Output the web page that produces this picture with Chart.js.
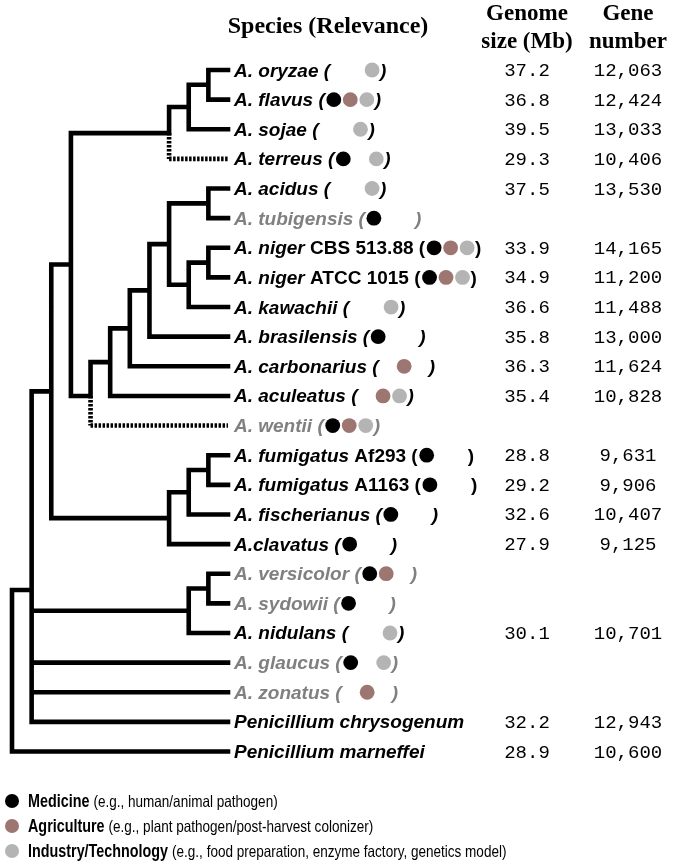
<!DOCTYPE html>
<html>
<head>
<meta charset="utf-8">
<script src="https://cdn.jsdelivr.net/npm/chart.js@4.4.1/dist/chart.umd.min.js"></script>
<style>
  html, body { margin: 0; padding: 0; background: #fff; }
  .tree { position: relative; width: 675px; height: 866px; }
</style>
</head>
<body>
<div class="tree"><canvas id="tree"></canvas></div>
<script>
// leaves, top to bottom
const speciesNames = ["A. oryzae", "A. flavus", "A. sojae", "A. terreus", "A. acidus", "A. tubigensis",
  "A. niger", "A. niger", "A. kawachii", "A. brasilensis", "A. carbonarius", "A. aculeatus", "A. wentii",
  "A. fumigatus", "A. fumigatus", "A. fischerianus", "A.clavatus", "A. versicolor", "A. sydowii",
  "A. nidulans", "A. glaucus", "A. zonatus", "Penicillium chrysogenum", "Penicillium marneffei"];
const strains = ["", "", "", "", "", "", "CBS 513.88", "ATCC 1015", "", "", "", "", "",
  "Af293", "A1163", "", "", "", "", "", "", "", "", ""];
const genomeSize = [37.2, 36.8, 39.5, 29.3, 37.5, null, 33.9, 34.9, 36.6, 35.8, 36.3, 35.4, null,
  28.8, 29.2, 32.6, 27.9, null, null, 30.1, null, null, 32.2, 28.9];
const geneNumber = [12063, 12424, 13033, 10406, 13530, null, 14165, 11200, 11488, 13000, 11624, 10828, null,
  9631, 9906, 10407, 9125, null, null, 10701, null, null, 12943, 10600];
// M = medicine, A = agriculture, I = industry/technology
const relevance = ["I", "MAI", "I", "MI", "I", "M", "MAI", "MAI", "I", "M", "A", "AI", "MAI",
  "M", "M", "M", "M", "MA", "M", "I", "MI", "A", null, null];

const relevanceKeys = ["M", "A", "I"];
const relevanceNames = ["Medicine", "Agriculture", "Industry/Technology"];
const relevanceNotes = ["(e.g., human/animal pathogen)", "(e.g., plant pathogen/post-harvest colonizer)",
  "(e.g., food preparation, enzyme factory, genetics model)"];
const relevanceColors = ["#000000", "#9d7672", "#b4b4b4"];

// cladogram: name -> [level, children]; numbers are leaf rows
const leafLevel = 11;
const clades = {
  root: [0, ["core", 23]],
  core: [1, ["asp", "nidulantes", 20, 21, 22]],
  asp: [2, ["asp3", "fumigati"]],
  asp3: [3, ["flavi", "nigri"]],
  flavi: [8, ["flavi2", 3]],
  flavi2: [9, ["flavi1", 2]],
  flavi1: [10, [0, 1]],
  nigri: [4, ["nigri7", 12]],
  nigri7: [5, ["nigri6", 11]],
  nigri6: [6, ["nigri5", 10]],
  nigri5: [7, ["nigri4", 9]],
  nigri4: [8, ["nigri1", "nigri3"]],
  nigri1: [10, [4, 5]],
  nigri3: [9, ["nigri2", 8]],
  nigri2: [10, [6, 7]],
  fumigati: [8, ["fumigati2", 16]],
  fumigati2: [9, ["fumigati1", 15]],
  fumigati1: [10, [13, 14]],
  nidulantes: [9, ["nidulantes1", 19]],
  nidulantes1: [10, [17, 18]],
};
const dottedLeaves = [3, 12];
const attachRow = { flavi: 2.13, nigri: 11, core: 17.55 };

const cladeY = {};
function rowOf(c) {
  if (typeof c === "number") return c;
  if (cladeY[c] !== undefined) return cladeY[c];
  const ys = clades[c][1].map(rowOf);
  cladeY[c] = attachRow[c] !== undefined ? attachRow[c] : (Math.min(...ys) + Math.max(...ys)) / 2;
  return cladeY[c];
}
const levelOf = (c) => (typeof c === "number" ? leafLevel : clades[c][0]);

const solid = [];
const dotted = [];
const seg = (arr, x1, y1, x2, y2) => arr.push({ x: x1, y: y1 }, { x: x2, y: y2 }, { x: x2, y: null });

Object.keys(clades).forEach((name) => {
  const [level, kids] = clades[name];
  const own = rowOf(name);
  const solidYs = kids.filter((k) => !dottedLeaves.includes(k)).map(rowOf);
  if (attachRow[name] !== undefined) solidYs.push(own);
  const lo = Math.min(...solidYs);
  const hi = Math.max(...solidYs);
  seg(solid, level, lo, level, hi);
  kids.forEach((k) => {
    const ky = rowOf(k);
    if (dottedLeaves.includes(k)) {
      seg(dotted, level, ky > hi ? hi : lo, level, ky);
      seg(dotted, level, ky, levelOf(k), ky);
    } else {
      seg(solid, level, ky, levelOf(k), ky);
    }
  });
});

const narrow = 0.82;

const labelPlugin = {
  id: "labels",
  afterDraw(chart) {
    const { ctx, scales: { x, y } } = chart;
    ctx.save();
    ctx.fillStyle = "#000";
    ctx.textBaseline = "alphabetic";
    ctx.textAlign = "center";
    ctx.font = 'bold 24px "Liberation Serif", "Times New Roman", serif';
    ctx.fillText("Species (Relevance)", 328, 33);
    ctx.font = 'bold 23px "Liberation Serif", "Times New Roman", serif';
    ctx.fillText("Genome", 527, 20);
    ctx.fillText("size (Mb)", 527, 48);
    ctx.fillText("Gene", 628, 20);
    ctx.fillText("number", 628, 48);

    const x0 = x.getPixelForValue(leafLevel) + 6;
    const italic = 'italic bold 19px "Liberation Sans", Arial, sans-serif';
    const upright = 'bold 19px "Liberation Sans", Arial, sans-serif';
    const mono = '19px "Liberation Mono", "Courier New", monospace';

    speciesNames.forEach((name, i) => {
      const py = y.getPixelForValue(i);
      const base = py + 6.5;
      ctx.textAlign = "left";
      ctx.fillStyle = genomeSize[i] == null ? "#808080" : "#000";
      let cx = x0;
      ctx.font = italic;
      ctx.fillText(name, cx, base);
      cx += ctx.measureText(name).width;
      if (strains[i]) {
        ctx.font = upright;
        const s = " " + strains[i];
        ctx.fillText(s, cx, base);
        cx += ctx.measureText(s).width;
      }
      if (relevance[i] != null) {
        ctx.font = strains[i] ? upright : italic;
        ctx.fillText(" (", cx, base);
        cx += ctx.measureText(" (").width;
        const start = cx + 9;
        relevanceKeys.forEach((key, k) => {
          if (!relevance[i].includes(key)) return;
          ctx.beginPath();
          ctx.arc(start + k * 16.5, py, 7.4, 0, Math.PI * 2);
          ctx.fillStyle = relevanceColors[k];
          ctx.fill();
        });
        ctx.fillStyle = genomeSize[i] == null ? "#808080" : "#000";
        ctx.fillText(")", start + 2 * 16.5 + 8, base);
      }
      ctx.fillStyle = "#000";
      ctx.font = mono;
      ctx.textAlign = "center";
      if (genomeSize[i] != null) ctx.fillText(genomeSize[i].toFixed(1), 527, py + 6);
      if (geneNumber[i] != null) ctx.fillText(geneNumber[i].toLocaleString("en-US"), 628, py + 6);
    });

    // relevance key
    relevanceNames.forEach((label, k) => {
      const ly = 801 + k * 25;
      ctx.beginPath();
      ctx.arc(12, ly, 7, 0, Math.PI * 2);
      ctx.fillStyle = relevanceColors[k];
      ctx.fill();
      ctx.fillStyle = "#000";
      ctx.textAlign = "left";
      ctx.save();
      ctx.translate(28, ly + 6);
      ctx.scale(narrow, 1);
      ctx.font = 'bold 17.5px "Liberation Sans", Arial, sans-serif';
      ctx.fillText(label, 0, 0);
      const w = ctx.measureText(label + " ").width;
      ctx.font = '16.5px "Liberation Sans", Arial, sans-serif';
      ctx.fillText(relevanceNotes[k], w, 0);
      ctx.restore();
    });
    ctx.restore();
  },
};

new Chart(document.getElementById("tree"), {
  type: "line",
  data: {
    datasets: [
      {
        data: solid,
        borderColor: "#000",
        borderWidth: 4.6,
        borderCapStyle: "square",
        pointRadius: 0,
        spanGaps: false,
        clip: false,
      },
      {
        data: dotted,
        borderColor: "#000",
        borderWidth: 4.6,
        borderCapStyle: "butt",
        borderDash: [2.5, 1.5],
        pointRadius: 0,
        spanGaps: false,
        clip: false,
      },
    ],
  },
  options: {
    responsive: true,
    maintainAspectRatio: false,
    animation: false,
    layout: { padding: { left: 12, right: 447, top: 70, bottom: 114.5 } },
    plugins: { legend: { display: false }, tooltip: { enabled: false } },
    scales: {
      x: { type: "linear", min: 0, max: leafLevel, display: false },
      y: { type: "linear", min: 0, max: 23, reverse: true, display: false },
    },
  },
  plugins: [labelPlugin],
});
</script>
</body>
</html>
